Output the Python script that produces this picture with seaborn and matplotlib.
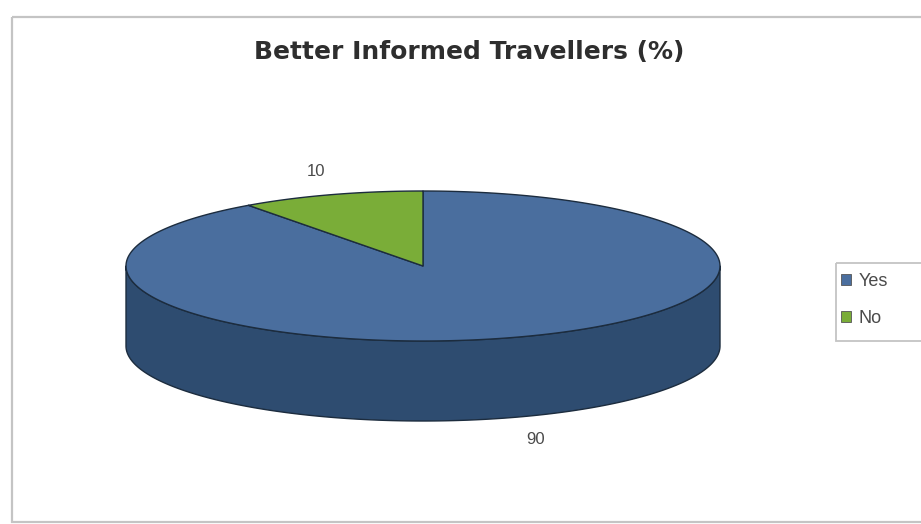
import numpy as np
import matplotlib
matplotlib.use("Agg")
import matplotlib.pyplot as plt
from matplotlib.patches import Polygon, Patch, Rectangle
import seaborn as sns

# ---- data ----
title = "Better Informed Travellers (%)"
categories = ["Yes", "No"]
values = [90, 10]
top_colors = ["#4a6e9e", "#7aad38"]
side_colors = ["#2e4c70", "#4e7a25"]

sns.set_theme(style="white")
plt.rcParams['font.family'] = ['Liberation Sans', 'DejaVu Sans']

fig = plt.figure(figsize=(9.21, 5.24), dpi=100)
ax = fig.add_axes([0, 0, 1, 1])
ax.set_xlim(0, 921)
ax.set_ylim(524, 0)
ax.axis("off")

# outer chart frame
ax.add_patch(Rectangle((11.5, 16.5), 930, 505, fill=False, edgecolor="#c4c4c4", lw=1.6))

# 3D pie geometry
cx, cy = 423, 266
rx, ry = 297, 75
depth = 80
edge = "#1c2c3e"

def pt(t, dy=0.0):
    r = np.deg2rad(t)
    return cx + rx * np.cos(r), cy - ry * np.sin(r) + dy

total = float(sum(values))
start = 90.0
wedges = []
for v in values:
    sweep = 360.0 * v / total
    wedges.append((start - sweep, start))  # clockwise drawing
    start -= sweep

# side walls (front half, t in [180, 360])
for (a0, a1), sc in zip(wedges, side_colors):
    for k in (-360, 0, 360):
        lo = max(a0 + k, 180)
        hi = min(a1 + k, 360)
        if hi > lo:
            ts = np.linspace(lo, hi, 200)
            upper = [pt(t) for t in ts]
            lower = [pt(t, depth) for t in ts[::-1]]
            ax.add_patch(Polygon(upper + lower, closed=True, facecolor=sc,
                                 edgecolor=edge, lw=1.0, joinstyle="round"))

# top faces
for (a0, a1), tc in zip(wedges, top_colors):
    ts = np.linspace(a0, a1, 300)
    poly = [(cx, cy)] + [pt(t) for t in ts]
    ax.add_patch(Polygon(poly, closed=True, facecolor=tc, edgecolor=edge,
                         lw=1.0, joinstyle="round"))

# title
ax.text(469, 52, title, ha="center", va="center", fontsize=18,
        fontweight="bold", color="#2e2e2e", family=["DejaVu Sans"])

# data labels
label_pos = [(536, 440), (316, 172)]
for v, (lx, ly) in zip(values, label_pos):
    ax.text(lx, ly, f"{v}", ha="center", va="center", fontsize=12, color="#4a4a4a")

# legend frame (extends past the right edge like the reference)
ax.add_patch(Rectangle((835.5, 262.5), 100, 78, fill=False, edgecolor="#c4c4c4", lw=1.3))
handles = [Patch(facecolor=c, edgecolor="#555555", lw=0.6) for c in top_colors]
leg = fig.legend(handles, categories, loc="upper left",
                 bbox_to_anchor=(841 / 921, 1 - 273 / 524),
                 frameon=False, fontsize=13,
                 handlelength=0.55, handleheight=0.55, handletextpad=0.4,
                 borderpad=0.0, labelspacing=1.1, borderaxespad=0)
for t in leg.get_texts():
    t.set_color("#4a4a4a")

fig.savefig("out.png", dpi=100)
